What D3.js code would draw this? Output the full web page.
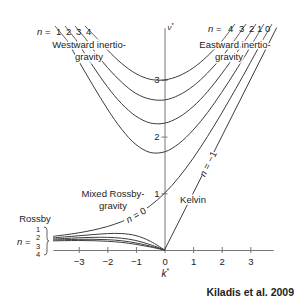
<!DOCTYPE html>
<html>
<head>
<meta charset="utf-8">
<script src="https://cdn.jsdelivr.net/npm/d3@7"></script>
<style>
  html, body { margin: 0; padding: 0; background: #fff; }
  svg text { font-family: "Liberation Sans", Arial, sans-serif; fill: #222; }
</style>
</head>
<body>
<div id="chart"></div>
<script>
// values, [k*, nu*]
var kTicks = [-3, -2, -1, 0, 1, 2, 3];
var nuTicks = [1, 2, 3];

var igN1 = [[-3.4, 3.69], [-3, 3.33], [-2.5, 2.9], [-2, 2.49], [-1.5, 2.13], [-1, 1.86], [-0.5, 1.72], [0, 1.73], [0.5, 1.875], [1, 2.115], [1.5, 2.42], [2, 2.78], [2.5, 3.17], [3, 3.58], [3.15, 3.71]];
var igN2 = [[-3.1, 3.71], [-3, 3.63], [-2.5, 3.24], [-2, 2.88], [-1.5, 2.58], [-1, 2.36], [-0.5, 2.24], [0, 2.236], [0.5, 2.34], [1, 2.53], [1.5, 2.79], [2, 3.11], [2.5, 3.46], [2.82, 3.7]];
var igN3 = [[-2.75, 3.72], [-2.5, 3.54], [-2, 3.22], [-1.5, 2.96], [-1, 2.76], [-0.5, 2.66], [0, 2.646], [0.5, 2.73], [1, 2.89], [1.5, 3.12], [2, 3.4], [2.45, 3.7]];
var igN4 = [[-2.3, 3.7], [-2, 3.53], [-1.5, 3.29], [-1, 3.11], [-0.5, 3.01], [0, 3], [0.5, 3.07], [1, 3.21], [1.5, 3.42], [2.05, 3.71]];
var mixed = [[-3.9, 0.241], [-3.5, 0.266], [-3, 0.303], [-2.5, 0.351], [-2, 0.414], [-1.5, 0.5], [-1, 0.618], [-0.5, 0.781], [0, 1], [0.5, 1.281], [1, 1.618], [1.5, 2], [2, 2.414], [2.5, 2.851], [3, 3.303], [3.43, 3.7]];
var kelvin = [[0, 0], [3.92, 3.92]];
var rossbyN1 = [[-3.9, 0.215], [-3.5, 0.23], [-3, 0.251], [-2.5, 0.272], [-2, 0.289], [-1.5, 0.29], [-1, 0.254], [-0.5, 0.155], [0, 0]];
var rossbyN2 = [[-3.9, 0.193], [-3.5, 0.203], [-3, 0.215], [-2.5, 0.223], [-2, 0.223], [-1.5, 0.208], [-1, 0.167], [-0.5, 0.095], [0, 0]];
var rossbyN3 = [[-3.9, 0.176], [-3.5, 0.182], [-3, 0.188], [-2.5, 0.189], [-2, 0.182], [-1.5, 0.163], [-1, 0.125], [-0.5, 0.069], [0, 0]];
var rossbyN4 = [[-3.9, 0.161], [-3.5, 0.165], [-3, 0.167], [-2.5, 0.164], [-2, 0.154], [-1.5, 0.134], [-1, 0.1], [-0.5, 0.054], [0, 0]];

var westLabels = ["1", "2", "3", "4"];
var eastLabels = ["4", "3", "2", "1", "0"];
var rossbyLabels = ["1", "2", "3", "4"];

var width = 300, height = 300;
var lineCol = "#3c3c3c", axisCol = "#777";

var svg = d3.select("#chart").append("svg")
	.attr("width", width)
	.attr("height", height);

var x = d3.scaleLinear().domain([-3.9, 3.8]).range([53, 273.2]);
var y = d3.scaleLinear().domain([0, 3.92]).range([250, 27.7]);

var line = d3.line()
	.x(function (d) { return x(d[0]); })
	.y(function (d) { return y(d[1]); })
	.curve(d3.curveCatmullRom);

// x axis
var xAxis = d3.axisBottom(x).tickValues(kTicks).tickSize(0).tickPadding(8)
	.tickFormat(d3.format("d"));
var gx = svg.append("g")
	.attr("transform", "translate(0," + y(0) + ")")
	.call(xAxis);
gx.select(".domain").attr("stroke", axisCol);
gx.selectAll(".tick line").remove();
gx.selectAll(".tick").append("line")
	.attr("y1", -3).attr("y2", 3).attr("stroke", axisCol);
gx.selectAll(".tick text").attr("font-size", 9.5).attr("fill", "#222")
	.attr("font-family", "Liberation Sans, Arial, sans-serif");

// y axis
var yAxis = d3.axisLeft(y).tickValues(nuTicks).tickSize(0).tickPadding(5)
	.tickFormat(d3.format("d"));
var gy = svg.append("g")
	.attr("transform", "translate(" + x(0) + ",0)")
	.call(yAxis);
gy.select(".domain").attr("stroke", axisCol);
gy.selectAll(".tick line").remove();
gy.selectAll(".tick").append("line")
	.attr("x1", -3).attr("x2", 3).attr("stroke", axisCol);
gy.selectAll(".tick text").attr("font-size", 9.5).attr("fill", "#222")
	.attr("font-family", "Liberation Sans, Arial, sans-serif");

// axis names
var kLab = svg.append("text").attr("x", x(0) - 3).attr("y", 277).attr("font-size", 10);
kLab.append("tspan").attr("font-style", "italic").text("k");
kLab.append("tspan").attr("dy", -4).attr("font-size", 7).text("*");
var nuLab = svg.append("text").attr("x", x(0) + 3).attr("y", 30).attr("font-size", 8);
nuLab.append("tspan").attr("font-style", "italic").text("\u03bd");
nuLab.append("tspan").attr("dy", -3).attr("font-size", 6).text("*");

// dispersion curves
var curves = [igN1, igN2, igN3, igN4, mixed, kelvin, rossbyN1, rossbyN2, rossbyN3, rossbyN4];
svg.append("g").selectAll("path")
	.data(curves)
	.enter()
	.append("path")
	.attr("d", line)
	.attr("fill", "none")
	.attr("stroke", lineCol)
	.attr("stroke-width", 1);

// leader ticks + n labels, westward
var westCurves = [igN1, igN2, igN3, igN4];
var westX = [56, 66, 76, 86];
westCurves.forEach(function (c, i) {
	var e = c[0];
	svg.append("line")
		.attr("x1", x(e[0])).attr("y1", y(e[1]))
		.attr("x2", westX[i] - 1).attr("y2", 26)
		.attr("stroke", lineCol).attr("stroke-width", 0.8);
	svg.append("text").attr("x", westX[i]).attr("y", 35)
		.attr("font-size", 9.5).text(westLabels[i]);
});
var nw = svg.append("text").attr("x", 37).attr("y", 35).attr("font-size", 9.5);
nw.append("tspan").attr("font-style", "italic").text("n");
nw.append("tspan").text(" =");

// leader ticks + n labels, eastward
var eastCurves = [igN4, igN3, igN2, igN1, mixed];
var eastX = [228, 239, 249, 257, 265];
eastCurves.forEach(function (c, i) {
	var e = c[c.length - 1];
	svg.append("line")
		.attr("x1", x(e[0])).attr("y1", y(e[1]))
		.attr("x2", eastX[i] + 7).attr("y2", 24)
		.attr("stroke", lineCol).attr("stroke-width", 0.8);
	svg.append("text").attr("x", eastX[i]).attr("y", 32)
		.attr("font-size", 9.5).text(eastLabels[i]);
});
var ne = svg.append("text").attr("x", 208).attr("y", 32).attr("font-size", 9.5);
ne.append("tspan").attr("font-style", "italic").text("n");
ne.append("tspan").text(" =");

// region labels with white halo so the curves are broken behind them
function label(tx, ty, s, anchor) {
	return svg.append("text")
		.attr("x", tx).attr("y", ty)
		.attr("text-anchor", anchor || "middle")
		.attr("font-size", 9.5)
		.attr("stroke", "#fff").attr("stroke-width", 3)
		.attr("paint-order", "stroke")
		.text(s);
}
label(89, 48, "Westward inertio-");
label(89, 60, "gravity");
label(235, 48, "Eastward inertio-");
label(229, 60, "gravity");
label(113, 197, "Mixed Rossby-");
label(113, 209, "gravity");
label(193, 203, "Kelvin");
label(35, 222, "Rossby");

// n = 0 on the mixed curve, n = -1 on the Kelvin line
function onCurve(px, py, ang, parts) {
	var g = svg.append("g")
		.attr("transform", "translate(" + px + "," + py + ") rotate(" + ang + ")");
	g.append("rect").attr("x", -13).attr("y", -5).attr("width", 26).attr("height", 9).attr("fill", "#fff");
	var t = g.append("text").attr("text-anchor", "middle").attr("y", 3.5).attr("font-size", 9.5);
	t.append("tspan").attr("font-style", "italic").text("n");
	t.append("tspan").text(parts);
}
var a0 = Math.atan2(y(mixed[7][1]) - y(mixed[5][1]), x(mixed[7][0]) - x(mixed[5][0])) * 180 / Math.PI;
onCurve(x(mixed[6][0]), y(mixed[6][1]), a0, " = 0");
var aK = Math.atan2(y(kelvin[1][1]) - y(kelvin[0][1]), x(kelvin[1][0]) - x(kelvin[0][0])) * 180 / Math.PI;
onCurve(x(1.52), y(1.52), aK, " = \u22121");

// Rossby n = 1..4 with brace
var nr = svg.append("text").attr("x", 17).attr("y", 245).attr("font-size", 9.5);
nr.append("tspan").attr("font-style", "italic").text("n");
nr.append("tspan").text(" =");
rossbyLabels.forEach(function (s, i) {
	svg.append("text").attr("x", 38).attr("y", 232 + i * 8.3)
		.attr("text-anchor", "middle").attr("font-size", 7.5).text(s);
});
svg.append("path")
	.attr("d", "M44,227 q3,0 3,3 v8 q0,3 2,3 q-2,0 -2,3 v8 q0,3 -3,3")
	.attr("fill", "none").attr("stroke", lineCol).attr("stroke-width", 0.8);

// source
svg.append("text").attr("x", 294).attr("y", 296)
	.attr("text-anchor", "end").attr("font-size", 10.5).attr("font-weight", "bold")
	.attr("fill", "#000")
	.text("Kiladis et al. 2009");
</script>
</body>
</html>
